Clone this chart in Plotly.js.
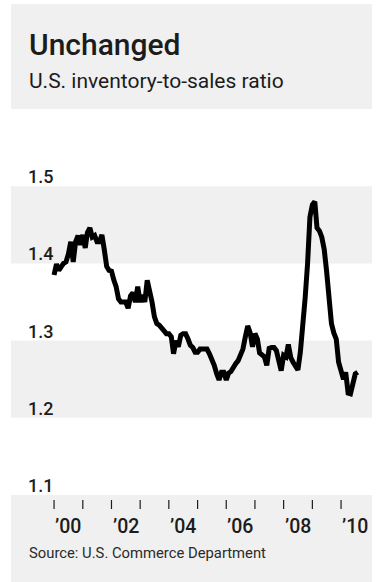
<!DOCTYPE html>
<html>
<head>
<meta charset="utf-8">
<script src="https://cdn.plot.ly/plotly-3.0.1.min.js"></script>
<style>html,body{margin:0;padding:0;background:#fff;}#chart{width:377px;height:582px;}</style>
</head>
<body>
<div id="chart"></div>
<script>
// ---- Data (monthly, Jan 2000 onward) ----
const startYear = 2000;
const ratio = [
  1.385,1.399,1.391,1.396,1.400,1.402,1.412,1.428,1.402,1.428,1.436,1.424,
  1.437,1.420,1.440,1.446,1.434,1.436,1.428,1.428,1.437,1.418,1.396,1.391,
  1.390,1.378,1.370,1.354,1.350,1.350,1.350,1.342,1.358,1.362,1.350,1.370,
  1.350,1.359,1.350,1.378,1.366,1.350,1.331,1.322,1.320,1.316,1.311,1.309,
  1.309,1.305,1.283,1.300,1.292,1.307,1.309,1.309,1.302,1.294,1.291,1.285,
  1.285,1.289,1.289,1.289,1.289,1.283,1.276,1.268,1.257,1.249,1.259,1.259,
  1.249,1.258,1.260,1.266,1.270,1.274,1.283,1.289,1.305,1.319,1.310,1.292,
  1.309,1.302,1.284,1.281,1.279,1.268,1.290,1.291,1.291,1.287,1.276,1.261,
  1.281,1.279,1.295,1.278,1.272,1.268,1.262,1.285,1.318,1.355,1.400,1.460,
  1.476,1.480,1.446,1.442,1.434,1.418,1.390,1.355,1.322,1.310,1.302,1.272,
  1.262,1.250,1.259,1.232,1.231,1.248,1.257,1.259
];
const yTicks = [1.1, 1.2, 1.3, 1.4, 1.5];
const yTickLabels = ["1.1", "1.2", "1.3", "1.4", "1.5"];
const xTickYears = [2000,2001,2002,2003,2004,2005,2006,2007,2008,2009,2010];
const xLabelYears = [2000,2002,2004,2006,2008,2010];
const xLabelText = ["\u201900","\u201902","\u201904","\u201906","\u201908","\u201910"];
const grayBands = [[1.4,1.5],[1.2,1.3]];

const titleText = "Unchanged";
const subtitleText = "U.S. inventory-to-sales ratio";
const sourceText = "Source: U.S. Commerce Department";

// ---- Build dates ----
const dates = ratio.map((v, i) => {
  const y = startYear + Math.floor(i / 12);
  const m = (i % 12) + 1;
  return y + "-" + (m < 10 ? "0" + m : m) + "-01";
});

const GRAY = "#f0f0f0";
const TXT = "#1c1c1c";
const FONT = "Roboto, 'Noto Sans', sans-serif";

// pixel helpers (plot area: top 109, bottom 495)
const T = 109, B = 495, H = B - T;
const py = p => (B - p) / H;
const LX = (27 - 11) / 361;

const shapes = [];
shapes.push({type:"rect", xref:"paper", yref:"paper", x0:0, x1:1, y0:1, y1:py(4), fillcolor:GRAY, line:{width:0}, layer:"below"});
shapes.push({type:"rect", xref:"paper", yref:"paper", x0:0, x1:1, y0:py(582), y1:0, fillcolor:GRAY, line:{width:0}, layer:"below"});
grayBands.forEach(b => shapes.push({type:"rect", xref:"paper", yref:"y", x0:0, x1:1, y0:b[0], y1:b[1], fillcolor:GRAY, line:{width:0}, layer:"below"}));
// year tick marks (placed through the x axis scale)
xTickYears.forEach(yr => shapes.push({type:"line", xref:"x", yref:"paper", x0:yr + "-01-01", x1:yr + "-01-01", y0:py(500), y1:py(509), line:{color:TXT, width:1.2}}));

const annotations = [];
annotations.push({text:titleText, xref:"paper", yref:"paper", x:LX, y:py(44), xanchor:"left", yanchor:"middle", showarrow:false, font:{family:FONT, size:30, weight:500, color:TXT}});
annotations.push({text:subtitleText, xref:"paper", yref:"paper", x:LX, y:py(81), xanchor:"left", yanchor:"middle", showarrow:false, font:{family:FONT, size:21, color:TXT}});
yTicks.forEach((v, i) => annotations.push({text:yTickLabels[i], xref:"paper", yref:"y", x:(26-11)/361, y:v, xanchor:"left", yanchor:"bottom", yshift:-3, showarrow:false, font:{family:FONT, size:18, weight:500, color:TXT}}));
xLabelYears.forEach((yr, i) => annotations.push({text:xLabelText[i], xref:"x", yref:"paper", x:yr + "-07-01", y:0, xanchor:"center", yanchor:"top", yshift:-18, showarrow:false, font:{family:FONT, size:19.5, weight:500, color:TXT}}));
annotations.push({text:sourceText, xref:"paper", yref:"paper", x:LX, y:py(553), xanchor:"left", yanchor:"middle", showarrow:false, font:{family:FONT, size:14.8, color:"#2a2a2a"}});

const trace = {
  x: dates, y: ratio, type:"scatter", mode:"lines",
  line:{color:"#000000", width:5, shape:"linear"},
  hoverinfo:"skip"
};

const layout = {
  width:377, height:582,
  margin:{l:11, r:5, t:T, b:582-B, pad:0},
  paper_bgcolor:"#ffffff", plot_bgcolor:"#ffffff",
  showlegend:false,
  xaxis:{
    type:"date", range:["1998-07-02","2011-01-30"],
    tickvals: xTickYears.map(y => y + "-01-01"),
    ticks:"", showticklabels:false, showgrid:false, zeroline:false, showline:false, fixedrange:true
  },
  yaxis:{
    range:[1.1, 1.6], showticklabels:false, showgrid:false, zeroline:false, showline:false, ticks:"", fixedrange:true
  },
  shapes: shapes,
  annotations: annotations
};

Plotly.newPlot("chart", [trace], layout, {displayModeBar:false, staticPlot:true});
</script>
</body>
</html>
